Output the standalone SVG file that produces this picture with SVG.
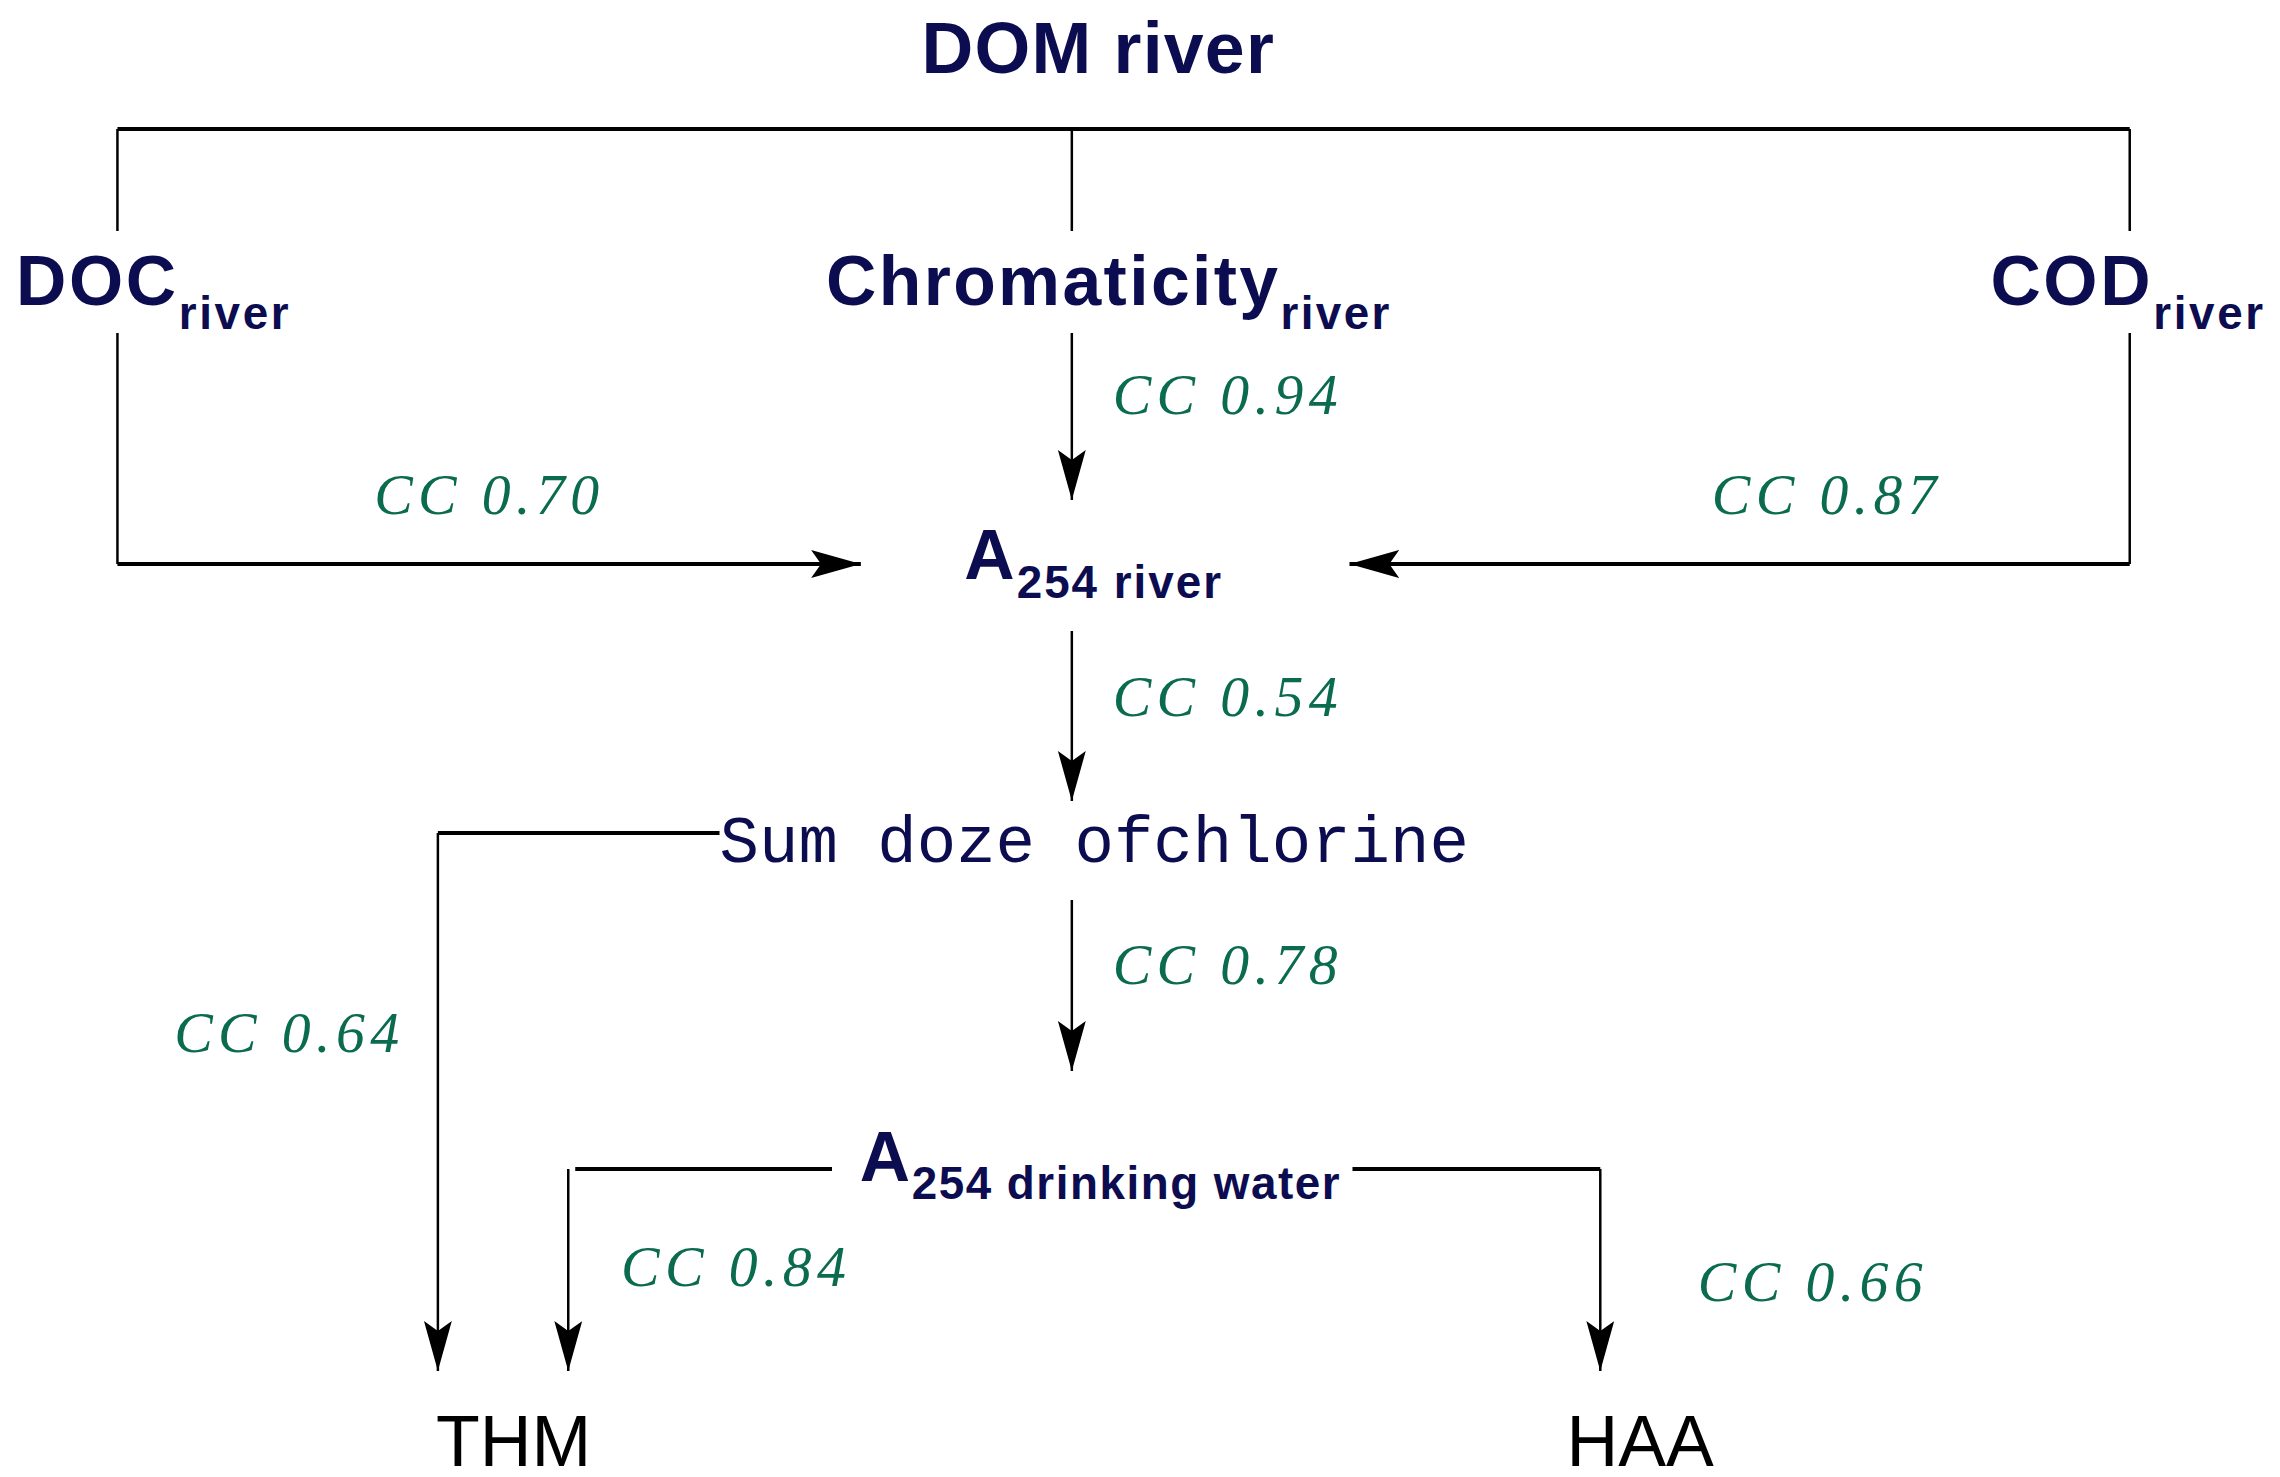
<svg xmlns="http://www.w3.org/2000/svg" width="2280" height="1477" viewBox="0 0 2280 1477">
<style>
.n{font-family:"Liberation Sans",Arial,sans-serif;font-weight:bold;fill:#0c0c50}
.cc{font-family:"Liberation Serif",serif;font-style:italic;fill:#0b6b4f;font-size:58px}
.l{stroke:#000;fill:none;stroke-width:2.5}
.h{stroke:#000;fill:none;stroke-width:4}
</style>
<defs>
<marker id="ah" markerUnits="userSpaceOnUse" markerWidth="56" markerHeight="30" refX="50" refY="14" orient="auto">
<path d="M0,0 L50,14 L0,28 L10,14 Z" fill="#000"/>
</marker>
</defs>
<rect width="2280" height="1477" fill="#fff"/>
<g transform="scale(0.9952,1)">
<g id="connectors">
<path class="h" d="M118,129 H2140"/>
<path class="l" d="M118,129 V231 M1077,129 V231 M2140,129 V231"/>
<path class="l" d="M118,333 V564"/>
<path class="h" d="M118,564 H865" marker-end="url(#ah)"/>
<path class="l" d="M2140,333 V564"/>
<path class="h" d="M2140,564 H1356" marker-end="url(#ah)"/>
<path class="l" d="M1077,333 V500" marker-end="url(#ah)"/>
<path class="l" d="M1077,631 V801" marker-end="url(#ah)"/>
<path class="h" d="M723,833 H440"/>
<path class="l" d="M440,833 V1371" marker-end="url(#ah)"/>
<path class="l" d="M1077,900 V1071" marker-end="url(#ah)"/>
<path class="h" d="M836,1169 H578"/>
<path class="l" d="M571,1169 V1371" marker-end="url(#ah)"/>
<path class="h" d="M1359,1169 H1608"/>
<path class="l" d="M1608,1169 V1371" marker-end="url(#ah)"/>
</g>
<g id="dom"><text class="n" x="1103" y="73" font-size="72" text-anchor="middle" textLength="354">DOM river</text></g>
<g id="doc"><text class="n" x="16" y="305" font-size="70" textLength="274">DOC<tspan font-size="46" dy="24">river</tspan></text></g>
<g id="chrom"><text class="n" x="830" y="305" font-size="70" textLength="566">Chromaticity<tspan font-size="46" dy="24">river</tspan></text></g>
<g id="cod"><text class="n" x="2000" y="305" font-size="70" textLength="274">COD<tspan font-size="46" dy="24">river</tspan></text></g>
<g id="a254river"><text class="n" x="969" y="579" font-size="70" textLength="258">A<tspan font-size="46" dy="19">254 river</tspan></text></g>
<g id="sum"><text x="723" y="862" font-family="Liberation Mono,monospace" font-size="66" fill="#0c0c50" textLength="753" lengthAdjust="spacingAndGlyphs">Sum doze ofchlorine</text></g>
<g id="a254dw"><text class="n" x="864" y="1181" font-size="70" textLength="482">A<tspan font-size="46" dy="18">254 drinking water</tspan></text></g>
<g id="thm"><text x="438" y="1466" font-family="Liberation Sans,Arial,sans-serif" font-size="72" fill="#000">THM</text></g>
<g id="haa"><text x="1574" y="1466" font-family="Liberation Sans,Arial,sans-serif" font-size="72" fill="#000">HAA</text></g>
<g id="labels">
<text class="cc" x="1118" y="414" textLength="226" lengthAdjust="spacing">CC 0.94</text>
<text class="cc" x="376" y="514" textLength="226" lengthAdjust="spacing">CC 0.70</text>
<text class="cc" x="1720" y="514" textLength="226" lengthAdjust="spacing">CC 0.87</text>
<text class="cc" x="1118" y="716" textLength="226" lengthAdjust="spacing">CC 0.54</text>
<text class="cc" x="1118" y="984" textLength="226" lengthAdjust="spacing">CC 0.78</text>
<text class="cc" x="175" y="1052" textLength="226" lengthAdjust="spacing">CC 0.64</text>
<text class="cc" x="624" y="1286" textLength="226" lengthAdjust="spacing">CC 0.84</text>
<text class="cc" x="1706" y="1301" textLength="226" lengthAdjust="spacing">CC 0.66</text>
</g>
</g>
</svg>
